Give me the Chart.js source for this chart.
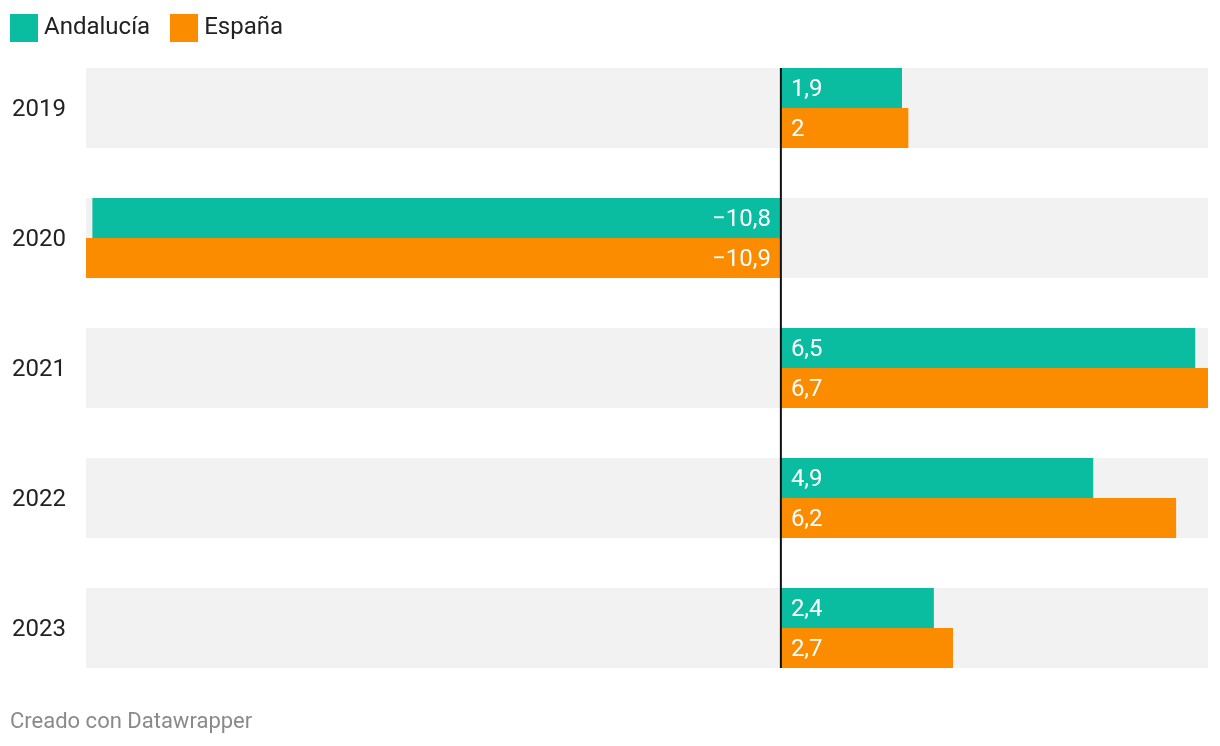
<!DOCTYPE html>
<html>
<head>
<meta charset="utf-8">
<script src="https://cdn.jsdelivr.net/npm/chart.js@4"></script>
<style>
  body { margin: 0; background: #fff; font-family: Roboto, sans-serif; }
  #wrap { position: relative; width: 1220px; height: 746px; }
  #legend { position: absolute; left: 10px; top: 14px; display: flex; font-size: 24px; color: #222; line-height: 28px; }
  .item { display: flex; align-items: center; margin-right: 20px; }
  .item span.txt { position: relative; top: -2px; }
  .box { width: 28px; height: 28px; margin-right: 6px; }
  #footer { position: absolute; left: 10px; top: 708px; font-size: 22px; color: #8a8a8a; }
</style>
</head>
<body>
<div id="wrap">
  <canvas id="chart_pib" width="1220" height="746"></canvas>
  <div id="legend"></div>
  <div id="footer">Creado con Datawrapper</div>
</div>
<script>
// datos
const years = ["2019", "2020", "2021", "2022", "2023"];
const andalucia = [1.9, -10.8, 6.5, 4.9, 2.4];
const espana = [2, -10.9, 6.7, 6.2, 2.7];

const colors = { andalucia: "#0bbda0", espana: "#fb8c00" };

// leyenda
const legend = document.getElementById("legend");
[["Andalucía", colors.andalucia], ["España", colors.espana]].forEach(([name, col]) => {
    let it = document.createElement("div");
    it.className = "item";
    it.innerHTML = '<span class="box" style="background:' + col + '"></span><span class="txt">' + name + '</span>';
    legend.appendChild(it);
});

function fmt(v) {
    let s = String(Math.abs(v)).replace(".", ",");
    return v < 0 ? "\u2212" + s : s;
}

// bandas grises de fondo
const bandsPlugin = {
    id: "bands",
    beforeDatasetsDraw(chart) {
        const ctx = chart.ctx;
        const a = chart.getDatasetMeta(0).data;
        const b = chart.getDatasetMeta(1).data;
        ctx.save();
        ctx.fillStyle = "#f2f2f2";
        a.forEach((bar, i) => {
            const top = bar.y - bar.height / 2;
            const bottom = b[i].y + b[i].height / 2;
            ctx.fillRect(chart.chartArea.left, top, chart.chartArea.right - chart.chartArea.left, bottom - top);
        });
        ctx.restore();
    }
};

// etiquetas y línea del cero
const labelsPlugin = {
    id: "barLabels",
    afterDatasetsDraw(chart) {
        const ctx = chart.ctx;
        ctx.save();
        ctx.font = "24px Roboto";
        ctx.fillStyle = "#fff";
        ctx.textBaseline = "middle";
        chart.data.datasets.forEach((ds, di) => {
            chart.getDatasetMeta(di).data.forEach((bar, i) => {
                const v = ds.data[i];
                if (v >= 0) {
                    ctx.textAlign = "left";
                    ctx.fillText(fmt(v), bar.base + 10, bar.y + 2);
                } else {
                    ctx.textAlign = "right";
                    ctx.fillText(fmt(v), bar.base - 10, bar.y + 2);
                }
            });
        });
        const first = chart.getDatasetMeta(0).data[0];
        const last = chart.getDatasetMeta(1).data[years.length - 1];
        const x0 = chart.scales.x.getPixelForValue(0);
        ctx.strokeStyle = "#111";
        ctx.lineWidth = 2;
        ctx.beginPath();
        ctx.moveTo(x0, first.y - first.height / 2);
        ctx.lineTo(x0, last.y + last.height / 2);
        ctx.stroke();
        ctx.restore();
    }
};

new Chart(document.getElementById("chart_pib").getContext("2d"), {
    type: "bar",
    data: {
        labels: years,
        datasets: [
            { label: "Andalucía", data: andalucia, backgroundColor: colors.andalucia },
            { label: "España", data: espana, backgroundColor: colors.espana }
        ]
    },
    options: {
        indexAxis: "y",
        responsive: false,
        animation: false,
        categoryPercentage: 80 / 130,
        barPercentage: 1,
        layout: { padding: { left: 12, right: 12, top: 43, bottom: 53 } },
        plugins: { legend: { display: false }, tooltip: { enabled: false } },
        scales: {
            x: { min: -10.9, max: 6.7, display: false },
            y: {
                grid: { display: false },
                border: { display: false },
                ticks: { font: { family: "Roboto", size: 24 }, color: "#222", crossAlign: "far", padding: 0, labelOffset: 2 },
                afterFit: scale => { scale.width = 74; }
            }
        }
    },
    plugins: [bandsPlugin, labelsPlugin]
});
</script>
</body>
</html>
